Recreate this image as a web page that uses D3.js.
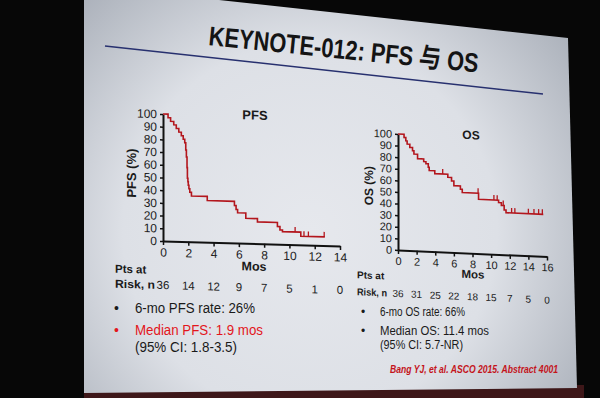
<!DOCTYPE html>
<html>
<head>
<meta charset="utf-8">
<script src="https://cdn.jsdelivr.net/npm/d3@7"></script>
<style>
  body { margin: 0; background: #070707; }
  svg { display: block; }
</style>
</head>
<body>
<script>
const w = 600;
const h = 398;

// PFS (months, % event free)
const pfsTimes = [0, 0.4, 0.6, 0.85, 1.05, 1.25, 1.45, 1.6, 1.72, 1.8, 1.85, 1.9, 1.93, 1.97, 2.0, 2.05, 2.12, 2.25, 3.5, 5.65, 5.78, 5.9, 6.55, 7.47, 9.05, 9.25, 9.45, 10.9];
const pfsSurv = [100, 97.2, 94.4, 91.7, 88.9, 86.1, 83.3, 80.6, 77.8, 72.2, 66.7, 58.3, 50.0, 47.2, 44.4, 41.7, 38.9, 36.1, 32.8, 29.5, 26.5, 23.9, 19.7, 17.1, 13.9, 11.3, 10.0, 6.8];
const pfsEnd = 12.8;
const pfsCensor = [10.45, 11.15, 11.5, 12.75];
const pfsRisk = [36, 14, 12, 9, 7, 5, 1, 0];
const pfsXTicks = [0, 2, 4, 6, 8, 10, 12, 14];

// OS
const osTimes = [0, 0.65, 0.84, 0.98, 1.27, 1.56, 1.71, 2.1, 2.76, 3.0, 3.25, 3.35, 3.95, 5.35, 5.75, 6.0, 6.7, 6.9, 8.65, 10.8, 11.1, 11.4, 11.6];
const osSurv = [100, 97.2, 94.4, 91.7, 88.9, 86.1, 83.3, 79.5, 77.2, 75.5, 72.5, 69.7, 67.2, 64.5, 61.6, 57.6, 54.8, 51.9, 46.7, 44.7, 42.3, 38.5, 36.2];
const osEnd = 15.6;
const osCensor = [4.8, 8.6, 10.3, 10.65, 11.3, 12.2, 12.55, 14.0, 14.6, 15.1, 15.5];
const osRisk = [36, 31, 25, 22, 18, 15, 7, 5, 0];
const osXTicks = [0, 2, 4, 6, 8, 10, 12, 14, 16];

const yTicks = [0, 10, 20, 30, 40, 50, 60, 70, 80, 90, 100];

const titleText = "KEYNOTE-012: PFS \u4E0E OS";
const pfsNotes = ["6-mo PFS rate: 26%", "Median PFS: 1.9 mos", "(95% CI: 1.8-3.5)"];
const osNotes = ["6-mo OS rate: 66%", "Median OS: 11.4 mos", "(95% CI: 5.7-NR)"];
const citation = "Bang YJ, et al. ASCO 2015. Abstract 4001";

const curveColor = "#b3161d";
const sansFont = "'Liberation Sans', Arial, sans-serif";
const slideFont = "'Liberation Sans Narrow', 'Arial Narrow', 'Liberation Sans', 'Noto Sans CJK SC', sans-serif";

const svg = d3.select("body").append("svg").attr("width", w).attr("height", h);

const drawSlide = () => {
  const defs = svg.append("defs");
  const grad = defs.append("radialGradient")
    .attr("id", "slideBg")
    .attr("gradientUnits", "userSpaceOnUse")
    .attr("cx", 310).attr("cy", 230).attr("r", 340);
  grad.append("stop").attr("offset", 0).attr("stop-color", "#e6e8ed");
  grad.append("stop").attr("offset", 0.55).attr("stop-color", "#dde0e6");
  grad.append("stop").attr("offset", 1).attr("stop-color", "#a6acb6");

  svg.append("rect").attr("width", w).attr("height", h).attr("fill", "#070707");
  // dark red strip under the screen
  svg.append("rect").attr("x", 84).attr("y", 385).attr("width", 500).attr("height", 13).attr("fill", "#3e1719");

  svg.append("polygon")
    .attr("points", "84,0 219,0 568,38 577,388 84,393")
    .attr("fill", "url(#slideBg)");

  // title + rule
  svg.append("line")
    .attr("x1", 105).attr("y1", 46).attr("x2", 543).attr("y2", 94)
    .attr("stroke", "#27306f").attr("stroke-width", 1.5);

  svg.append("text")
    .attr("transform", "translate(208,45) rotate(5.8)")
    .attr("font-family", slideFont)
    .attr("font-weight", "bold")
    .attr("font-size", 27)
    .attr("fill", "#141414")
    .attr("textLength", 271)
    .attr("lengthAdjust", "spacingAndGlyphs")
    .text(titleText);
};

const stepAt = (times, surv, t) => {
  let i = 0;
  while (i + 1 < times.length && times[i + 1] <= t) i++;
  return surv[i];
};

const drawChart = (cfg) => {
  const x = d3.scaleLinear().domain([0, cfg.xMax]).range([cfg.x0, cfg.x1]);
  const y = d3.scaleLinear().domain([0, 100]).range([cfg.y0, cfg.y1]);

  const g = svg.append("g")
    .attr("transform", `translate(${cfg.x0},${cfg.y0}) skewY(${cfg.skew}) translate(${-cfg.x0},${-cfg.y0})`);

  const yAxis = d3.axisLeft(y).tickValues(yTicks).tickSize(3).tickSizeOuter(0).tickPadding(3);
  const xAxis = d3.axisBottom(x).tickValues(cfg.xTicks).tickSize(4).tickSizeOuter(0).tickPadding(3);

  const ya = g.append("g").attr("transform", `translate(${cfg.x0},0)`).call(yAxis);
  const xa = g.append("g").attr("transform", `translate(0,${cfg.y0})`).call(xAxis);

  [ya, xa].forEach((a) => {
    a.select(".domain").attr("stroke", "#111").attr("stroke-width", 2);
    a.selectAll(".tick line").attr("stroke", "#111").attr("stroke-width", 1.5);
    a.selectAll(".tick text")
      .attr("fill", "#1c1c1c")
      .attr("font-family", sansFont)
      .attr("font-size", cfg.tickFont);
  });

  const data = cfg.times.map((t, i) => [t, cfg.surv[i]]);
  data.push([cfg.end, cfg.surv[cfg.surv.length - 1]]);

  const line = d3.line()
    .x((d) => x(d[0]))
    .y((d) => y(d[1]))
    .curve(d3.curveStepAfter);

  g.append("path")
    .datum(data)
    .attr("d", line)
    .attr("fill", "none")
    .attr("stroke", curveColor)
    .attr("stroke-width", 1.6);

  g.selectAll(".censor")
    .data(cfg.censor)
    .enter()
    .append("line")
    .attr("class", "censor")
    .attr("x1", (d) => x(d))
    .attr("x2", (d) => x(d))
    .attr("y1", (d) => y(stepAt(cfg.times, cfg.surv, d)))
    .attr("y2", (d) => y(stepAt(cfg.times, cfg.surv, d)) - 5)
    .attr("stroke", curveColor)
    .attr("stroke-width", 1.3);

  // axis titles
  g.append("text")
    .attr("transform", `translate(${cfg.yLabelX},${cfg.yLabelY}) rotate(-90)`)
    .attr("text-anchor", "middle")
    .attr("font-family", sansFont)
    .attr("font-weight", "bold")
    .attr("font-size", cfg.labelFont)
    .attr("fill", "#1a1a1a")
    .text(cfg.yLabel);

  g.append("text")
    .attr("x", cfg.mosX).attr("y", cfg.mosY)
    .attr("text-anchor", "middle")
    .attr("font-family", sansFont)
    .attr("font-weight", "bold")
    .attr("font-size", cfg.labelFont - 0.5)
    .attr("fill", "#1a1a1a")
    .text("Mos");

  g.append("text")
    .attr("x", cfg.titleX).attr("y", cfg.titleY)
    .attr("text-anchor", "middle")
    .attr("font-family", sansFont)
    .attr("font-weight", "bold")
    .attr("font-size", cfg.labelFont)
    .attr("fill", "#1a1a1a")
    .text(cfg.title);

  // patients at risk
  g.append("text")
    .attr("x", cfg.riskX).attr("y", cfg.riskY - cfg.riskGap)
    .attr("font-family", sansFont).attr("font-weight", "bold")
    .attr("font-size", cfg.riskFont).attr("fill", "#1a1a1a")
    .text("Pts at");
  g.append("text")
    .attr("x", cfg.riskX).attr("y", cfg.riskY)
    .attr("font-family", sansFont).attr("font-weight", "bold")
    .attr("font-size", cfg.riskFont).attr("fill", "#1a1a1a")
    .attr("textLength", cfg.riskLabelW)
    .attr("lengthAdjust", "spacingAndGlyphs")
    .text("Risk, n");

  g.selectAll(".risk")
    .data(cfg.risk)
    .enter()
    .append("text")
    .attr("class", "risk")
    .attr("x", (d, i) => x(cfg.xTicks[i]))
    .attr("y", cfg.riskY)
    .attr("text-anchor", "middle")
    .attr("font-family", sansFont)
    .attr("font-size", cfg.riskFont)
    .attr("fill", "#1c1c1c")
    .text((d) => d);
};

const drawNotes = (notes, cfg) => {
  notes.forEach((n, i) => {
    const col = cfg.colors[i];
    if (i < 2) {
      svg.append("text")
        .attr("x", cfg.bulletX).attr("y", cfg.ys[i])
        .attr("font-family", sansFont)
        .attr("font-size", cfg.font)
        .attr("fill", col)
        .text("\u2022");
    }
    svg.append("text")
      .attr("x", cfg.textX).attr("y", cfg.ys[i])
      .attr("font-family", slideFont)
      .attr("font-size", cfg.font)
      .attr("fill", col)
      .attr("textLength", cfg.widths[i])
      .attr("lengthAdjust", "spacingAndGlyphs")
      .text(n);
  });
};

drawSlide();

drawChart({
  times: pfsTimes, surv: pfsSurv, end: pfsEnd, censor: pfsCensor, risk: pfsRisk,
  xTicks: pfsXTicks, xMax: 14,
  x0: 163, x1: 340, y0: 241, y1: 114, skew: 1.6,
  tickFont: 12, labelFont: 13, riskFont: 11.5, riskLabelW: 40,
  yLabel: "PFS (%)", yLabelX: 136, yLabelY: 174,
  title: "PFS", titleX: 255, titleY: 117,
  mosX: 254, mosY: 268,
  riskX: 115, riskY: 289, riskGap: 15
});

drawChart({
  times: osTimes, surv: osSurv, end: osEnd, censor: osCensor, risk: osRisk,
  xTicks: osXTicks, xMax: 16,
  x0: 398, x1: 547, y0: 250, y1: 134, skew: 2.5,
  tickFont: 11, labelFont: 12, riskFont: 10, riskLabelW: 30,
  yLabel: "OS (%)", yLabelX: 373, yLabelY: 187,
  title: "OS", titleX: 471, titleY: 136,
  mosX: 473, mosY: 275,
  riskX: 357, riskY: 297, riskGap: 17
});

drawNotes(pfsNotes, {
  bulletX: 114, textX: 135, font: 14,
  ys: [313, 335, 352],
  widths: [120, 128, 102],
  colors: ["#1a1a1a", "#e3161c", "#1a1a1a"]
});

drawNotes(osNotes, {
  bulletX: 361, textX: 380, font: 12,
  ys: [316, 335, 349],
  widths: [85, 109, 83],
  colors: ["#1a1a1a", "#1a1a1a", "#1a1a1a"]
});

svg.append("text")
  .attr("x", 390).attr("y", 373)
  .attr("font-family", sansFont)
  .attr("font-weight", "bold")
  .attr("font-style", "italic")
  .attr("font-size", 10)
  .attr("fill", "#c4141b")
  .attr("textLength", 168)
  .attr("lengthAdjust", "spacingAndGlyphs")
  .text(citation);
</script>
</body>
</html>
